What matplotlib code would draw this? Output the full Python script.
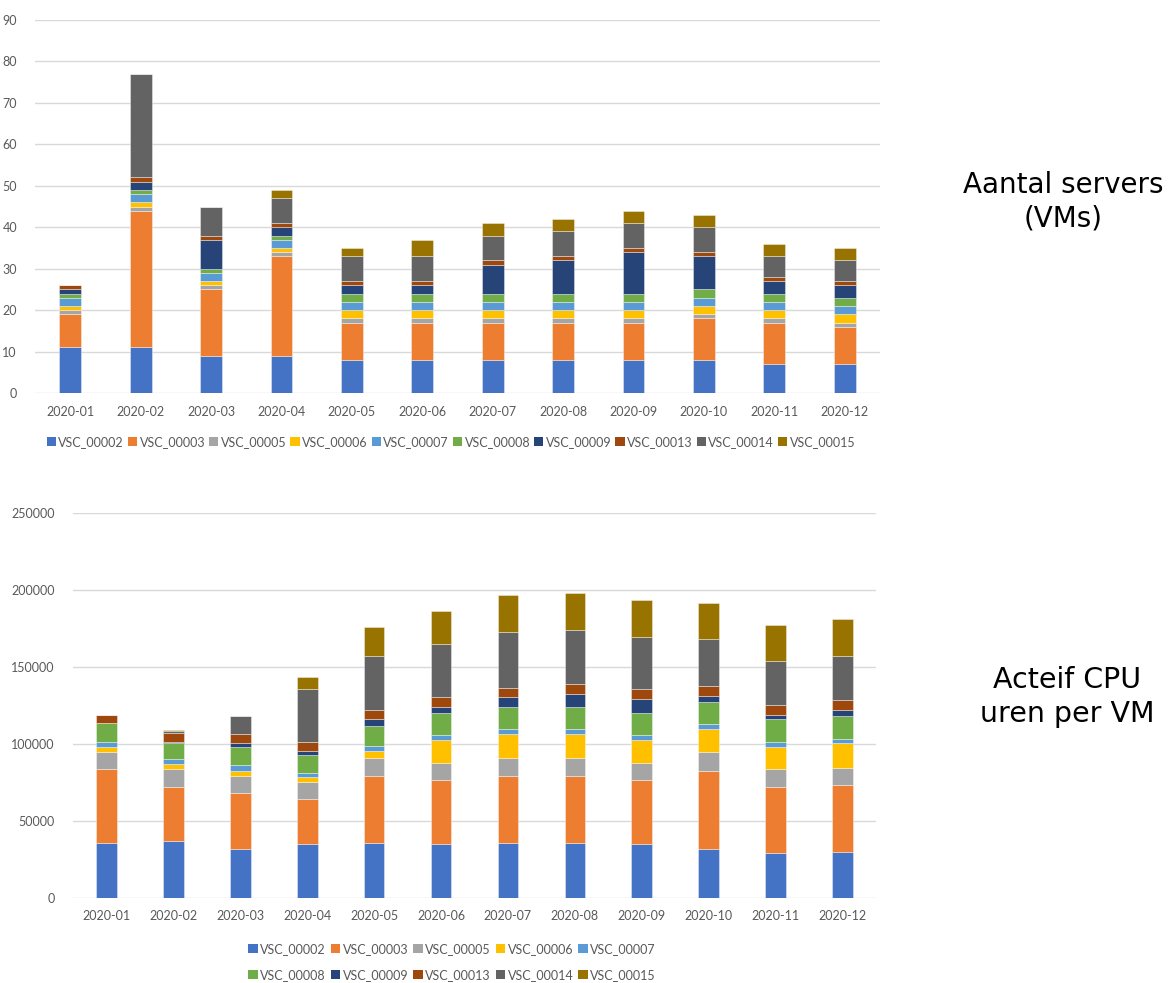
import matplotlib
matplotlib.use("Agg")
import matplotlib.pyplot as plt
from matplotlib.patches import Patch
import numpy as np

months = ['2020-01', '2020-02', '2020-03', '2020-04', '2020-05', '2020-06',
          '2020-07', '2020-08', '2020-09', '2020-10', '2020-11', '2020-12']
series_names = ['VSC_00002', 'VSC_00003', 'VSC_00005', 'VSC_00006', 'VSC_00007',
                'VSC_00008', 'VSC_00009', 'VSC_00013', 'VSC_00014', 'VSC_00015']
series_colors = ['#4472C4', '#ED7D31', '#A5A5A5', '#FFC000', '#5B9BD5',
                 '#70AD47', '#264478', '#9E480E', '#636363', '#997300']

# Number of VMs per site and month
vms_00002 = [11, 11, 9, 9, 8, 8, 8, 8, 8, 8, 7, 7]
vms_00003 = [8, 33, 16, 24, 9, 9, 9, 9, 9, 10, 10, 9]
vms_00005 = [1, 1, 1, 1, 1, 1, 1, 1, 1, 1, 1, 1]
vms_00006 = [1, 1, 1, 1, 2, 2, 2, 2, 2, 2, 2, 2]
vms_00007 = [2, 2, 2, 2, 2, 2, 2, 2, 2, 2, 2, 2]
vms_00008 = [1, 1, 1, 1, 2, 2, 2, 2, 2, 2, 2, 2]
vms_00009 = [1, 2, 7, 2, 2, 2, 7, 8, 10, 8, 3, 3]
vms_00013 = [1, 1, 1, 1, 1, 1, 1, 1, 1, 1, 1, 1]
vms_00014 = [0, 25, 7, 6, 6, 6, 6, 6, 6, 6, 5, 5]
vms_00015 = [0, 0, 0, 2, 2, 4, 3, 3, 3, 3, 3, 3]

# Active CPU hours per site and month
cpu_00002 = [36000, 37200, 32000, 35300, 35900, 35100, 35900, 35900, 35100, 32000, 29000, 30100]
cpu_00003 = [47800, 35100, 36400, 28800, 43500, 41500, 43500, 43500, 41500, 50700, 43300, 43300]
cpu_00005 = [11200, 11500, 11000, 11400, 11700, 11300, 11700, 11700, 11300, 12300, 11500, 11200]
cpu_00006 = [3300, 3200, 3300, 3300, 4100, 14500, 15600, 15600, 14500, 14700, 14500, 15800]
cpu_00007 = [3200, 3000, 3400, 2200, 3300, 3200, 3000, 3000, 3200, 3100, 3000, 3100]
cpu_00008 = [12100, 10400, 12200, 12100, 13200, 14500, 14500, 14500, 14500, 14500, 14700, 14500]
cpu_00009 = [0, 900, 2100, 2100, 4300, 4100, 6100, 8300, 9300, 4100, 3000, 4100]
cpu_00013 = [5400, 6100, 6300, 6300, 6100, 6100, 6300, 6200, 6100, 6300, 6100, 6300]
cpu_00014 = [0, 1300, 11300, 34000, 35300, 34400, 36300, 35100, 34200, 30300, 29000, 29000]
cpu_00015 = [0, 300, 0, 8200, 18400, 21700, 23900, 24000, 23800, 23300, 23000, 23800]

vms = [vms_00002, vms_00003, vms_00005, vms_00006, vms_00007,
       vms_00008, vms_00009, vms_00013, vms_00014, vms_00015]
cpu = [cpu_00002, cpu_00003, cpu_00005, cpu_00006, cpu_00007,
       cpu_00008, cpu_00009, cpu_00013, cpu_00014, cpu_00015]

plt.rcParams['font.family'] = ['Lato', 'DejaVu Sans']
TICK_COLOR = '#595959'
GRID_COLOR = '#D9D9D9'


def stacked(ax, data, ymax, step, pad):
    x = np.arange(len(months))
    bottom = np.zeros(len(months))
    for vals, col in zip(data, series_colors):
        vals = np.asarray(vals, dtype=float)
        ax.bar(x, vals, width=0.31, bottom=bottom, color=col,
               edgecolor=(1, 1, 1, 0.45), linewidth=0.6, zorder=3)
        bottom += vals
    ax.set_xlim(-0.5, len(months) - 0.5)
    ax.set_ylim(0, ymax)
    ax.set_yticks(np.arange(0, ymax + step / 2, step))
    ax.set_xticks(x)
    ax.set_xticklabels(months)
    for s in ax.spines.values():
        s.set_visible(False)
    ax.yaxis.grid(True, color=GRID_COLOR, linewidth=1.0, zorder=0)
    ax.set_axisbelow(True)
    ax.tick_params(axis='both', length=0, colors=TICK_COLOR, labelsize=9)
    ax.tick_params(axis='y', pad=pad)
    ax.tick_params(axis='x', pad=9)


fig = plt.figure(figsize=(11.69, 9.83), dpi=100)

ax1 = fig.add_axes([35 / 1169, 1 - 393 / 983, 845 / 1169, 373 / 983])
stacked(ax1, vms, 90, 10, 13)

ax2 = fig.add_axes([73 / 1169, 1 - 898 / 983, 803 / 1169, 385 / 983])
stacked(ax2, cpu, 250000, 50000, 13)

handles = [Patch(facecolor=c, edgecolor='none') for c in series_colors]
leg_kw = dict(frameon=False, handlelength=0.75, handleheight=0.75,
              handletextpad=0.2, fontsize=9,
              labelcolor=TICK_COLOR, borderaxespad=0)
fig.legend(handles, series_names, ncol=10, loc='center', columnspacing=0.3,
           bbox_to_anchor=(451 / 1169, 1 - 442 / 983), **leg_kw)

# two-row legend filled row by row
order = [0, 5, 1, 6, 2, 7, 3, 8, 4, 9]
fig.legend([handles[i] for i in order], [series_names[i] for i in order],
           ncol=5, loc='center', labelspacing=1.1, columnspacing=0.4,
           bbox_to_anchor=(452 / 1169, 1 - 962 / 983), **leg_kw)

fig.text(1063 / 1169, 1 - 202 / 983, 'Aantal servers\n(VMs)', ha='center',
         va='center', fontsize=20, family='DejaVu Sans', color='black',
         linespacing=1.25)
fig.text(1067 / 1169, 1 - 697 / 983, 'Acteif CPU\nuren per VM', ha='center',
         va='center', fontsize=20.5, family='DejaVu Sans', color='black',
         linespacing=1.25)

fig.savefig('out.png', dpi=100)
